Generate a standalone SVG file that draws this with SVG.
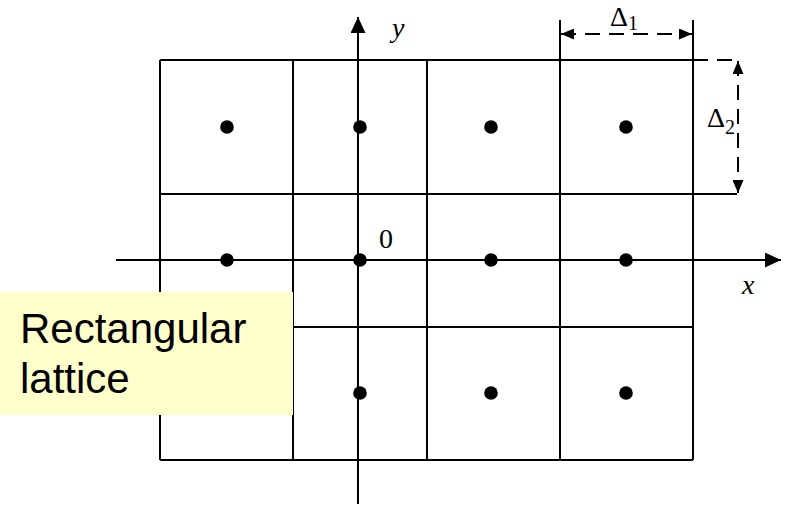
<svg xmlns="http://www.w3.org/2000/svg" width="788" height="506" viewBox="0 0 788 506">
<style>
.g{stroke:#000;stroke-width:2;fill:none}
.d{stroke:#000;stroke-width:2;fill:none;stroke-dasharray:15 9}
.dot{fill:#000}
.t{font-family:"Liberation Serif","Times New Roman",serif;font-size:28px;fill:#000}
.i{font-style:italic}
.dl{font-size:28px}
.s{font-size:20px}
.b{font-family:"Liberation Sans",Arial,sans-serif;font-size:42px;fill:#000}
</style>
<defs>
<marker id="ah" viewBox="0 0 16 15" refX="16" refY="7.5" markerWidth="16" markerHeight="15" markerUnits="userSpaceOnUse" orient="auto-start-reverse">
<path d="M0,0 L16,7.5 L0,15 Z" fill="#000"/>
</marker>
<marker id="dh" viewBox="0 0 13 11" refX="13" refY="5.5" markerWidth="13" markerHeight="11" markerUnits="userSpaceOnUse" orient="auto-start-reverse">
<path d="M0,0 L13,5.5 L0,11 Z" fill="#000"/>
</marker>
</defs>
<rect width="788" height="506" fill="#fff"/>
<g id="grid">
<line class="g" x1="160" y1="60" x2="693" y2="60"/>
<line class="g" x1="160" y1="194" x2="737" y2="194"/>
<line class="g" x1="160" y1="327" x2="693" y2="327"/>
<line class="g" x1="160" y1="460" x2="693" y2="460"/>
<line class="g" x1="160" y1="60" x2="160" y2="460"/>
<line class="g" x1="293" y1="60" x2="293" y2="460"/>
<line class="g" x1="427" y1="60" x2="427" y2="460"/>
<line class="g" x1="560" y1="20" x2="560" y2="460"/>
<line class="g" x1="693" y1="20" x2="693" y2="460"/>
</g>
<g id="connectors">
<line class="g" x1="116" y1="260" x2="781" y2="260" marker-end="url(#ah)"/>
<line class="g" x1="358" y1="504" x2="358" y2="17" marker-end="url(#ah)"/>
<line class="d" x1="561" y1="34" x2="692" y2="34" marker-start="url(#dh)" marker-end="url(#dh)" stroke-dasharray="0 12 15 10 15 10 15 10 15 10 15 10"/>
<line class="d" x1="693" y1="60" x2="738" y2="60" stroke-dasharray="17 8 20 8"/>
<line class="d" x1="738" y1="61" x2="738" y2="193" marker-start="url(#dh)" marker-end="url(#dh)"/>
</g>
<g id="dots">
<circle class="dot" cx="227" cy="127" r="6.8"/>
<circle class="dot" cx="360" cy="127" r="6.8"/>
<circle class="dot" cx="491" cy="127" r="6.8"/>
<circle class="dot" cx="626" cy="127" r="6.8"/>
<circle class="dot" cx="227" cy="260" r="6.8"/>
<circle class="dot" cx="360" cy="260" r="6.8"/>
<circle class="dot" cx="491" cy="260" r="6.8"/>
<circle class="dot" cx="626" cy="260" r="6.8"/>
<circle class="dot" cx="227" cy="393" r="6.8"/>
<circle class="dot" cx="360" cy="393" r="6.8"/>
<circle class="dot" cx="491" cy="393" r="6.8"/>
<circle class="dot" cx="626" cy="393" r="6.8"/>
</g>
<g id="labels">
<text class="t i" x="392" y="37">y</text>
<text class="t i" x="742" y="294">x</text>
<text class="t" x="379" y="248">0</text>
<text class="t dl" x="610" y="26">Δ<tspan class="s" dy="4">1</tspan></text>
<text class="t dl" x="707" y="127">Δ<tspan class="s" dy="7">2</tspan></text>
</g>
<g id="caption">
<rect x="0" y="292" width="293" height="123" fill="#FFFFCC"/>
<text class="b" x="20" y="343">Rectangular</text>
<text class="b" x="20" y="393">lattice</text>
</g>
</svg>
